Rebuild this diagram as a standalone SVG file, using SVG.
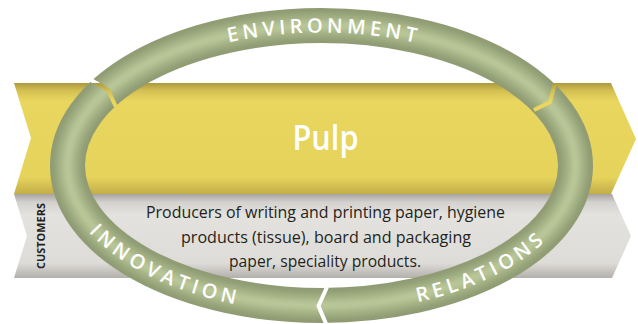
<svg xmlns="http://www.w3.org/2000/svg" width="638" height="324" viewBox="0 0 638 324">
<style>
.body{font-family:"Open Sans","Liberation Sans",sans-serif;font-size:16px;fill:#231f20;text-anchor:middle}
.ring-t{font-family:"Open Sans","Liberation Sans",sans-serif;font-size:20px;font-weight:600;fill:#ffffff;letter-spacing:4.2px}
</style>
<defs>
<linearGradient id="gY" x1="0" y1="83" x2="0" y2="194" gradientUnits="userSpaceOnUse">
<stop offset="0" stop-color="#ad993f"/>
<stop offset="0.07" stop-color="#d4c052"/>
<stop offset="0.16" stop-color="#e8d65f"/>
<stop offset="0.85" stop-color="#e6d35c"/>
<stop offset="1" stop-color="#c2ad48"/>
</linearGradient>
<linearGradient id="gG" x1="0" y1="194" x2="0" y2="278" gradientUnits="userSpaceOnUse">
<stop offset="0" stop-color="#a7a4a0"/>
<stop offset="0.1" stop-color="#d4d2ce"/>
<stop offset="0.25" stop-color="#e4e2de"/>
<stop offset="0.82" stop-color="#dedcd8"/>
<stop offset="1" stop-color="#b3b0ac"/>
</linearGradient>
<filter id="blur" x="-5%" y="-5%" width="110%" height="110%"><feGaussianBlur stdDeviation="2.2"/></filter>
<mask id="gaps" maskUnits="userSpaceOnUse" x="0" y="0" width="638" height="324">
<rect x="0" y="0" width="638" height="324" fill="#fff"/>
<g fill="none" stroke="#000" stroke-width="4" stroke-linejoin="miter">
<polyline points="91,80 108,90 116,107"/>
<polyline points="555,83 550,102 534,110"/>
<polyline points="327,287 318.5,306 327,326"/>
</g>
</mask>
<path id="pTop" d="M 75 165.5 A 246.5 133 0 0 1 568 165.5"/>
<path id="pBot" d="M 60.5 165.5 A 261 147 0 0 0 582.5 165.5"/>
</defs>
<rect width="638" height="324" fill="#ffffff"/>
<g id="pulp-band">
<polygon points="14,83 611,83 636,139 611,194 14,194 31,138" fill="url(#gY)"/>
<text x="325.5" y="150" font-family="'Open Sans','Liberation Sans',sans-serif" font-size="34" font-weight="600" fill="#ffffff" text-anchor="middle" textLength="66" lengthAdjust="spacingAndGlyphs">Pulp</text>
</g>
<g id="customers-band">
<polygon points="14,194 612,194 631,236 612,278 14,278 27,236" fill="url(#gG)"/>
<text transform="translate(45,236) rotate(-90)" font-family="'Open Sans','Liberation Sans',sans-serif" font-size="11" font-weight="700" fill="#231f20" text-anchor="middle" textLength="66" lengthAdjust="spacingAndGlyphs">CUSTOMERS</text>
<text class="body" x="325.5" y="218" textLength="359" lengthAdjust="spacingAndGlyphs">Producers of writing and printing paper, hygiene</text>
<text class="body" x="326" y="242.5" textLength="290" lengthAdjust="spacingAndGlyphs">products (tissue), board and packaging</text>
<text class="body" x="325" y="267" textLength="192" lengthAdjust="spacingAndGlyphs">paper, speciality products.</text>
</g>
<g id="cycle-ring">
<g mask="url(#gaps)" fill="none">
<ellipse cx="321.5" cy="165.5" rx="254" ry="140" stroke="#8f9b73" stroke-width="35"/>
<g filter="url(#blur)">
<ellipse cx="321.5" cy="165.5" rx="254" ry="140" stroke="#9caa7f" stroke-width="26"/>
<ellipse cx="321.5" cy="165.5" rx="254" ry="140" stroke="#abb88b" stroke-width="16"/>
<ellipse cx="321.5" cy="165.5" rx="254" ry="140" stroke="#bac899" stroke-width="7"/>
</g>
</g>
<text class="ring-t"><textPath href="#pTop" startOffset="50.4%" text-anchor="middle">ENVIRONMENT</textPath></text>
<text class="ring-t"><textPath href="#pBot" startOffset="24.3%" text-anchor="middle">INNOVATION</textPath></text>
<text class="ring-t"><textPath href="#pBot" startOffset="76%" text-anchor="middle">RELATIONS</textPath></text>
</g>
</svg>
